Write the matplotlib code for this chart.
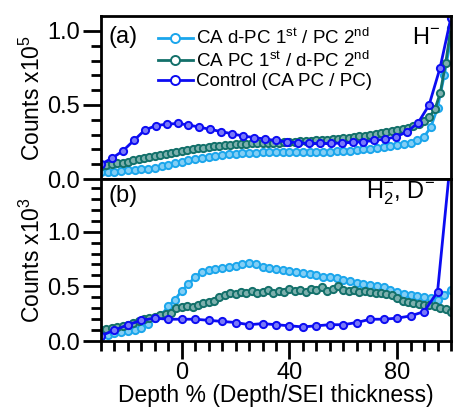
import numpy as np
import matplotlib.pyplot as plt
from matplotlib.colors import to_rgb

plt.rcParams['font.family'] = ['Liberation Sans', 'DejaVu Sans']
plt.rcParams['mathtext.default'] = 'regular'

# depth grids (% of SEI thickness)
depth_lb = np.arange(-30, 100.1, 2.5)
depth_tl = np.arange(-30, 100.1, 2.0)
depth_bl_a = np.linspace(-30, 100, 33)
depth_bl_b = np.arange(-30, 100.1, 5.0)

# panel (a): H-  (counts x1e5)
h_dpc_pc = [0.05, 0.05, 0.05, 0.055, 0.06, 0.06, 0.065, 0.07, 0.075, 0.085, 0.095, 0.105,
            0.115, 0.125, 0.135, 0.145, 0.15, 0.158, 0.163, 0.168, 0.172, 0.175, 0.178,
            0.178, 0.18, 0.18, 0.18, 0.18, 0.18, 0.18, 0.18, 0.181, 0.182, 0.183, 0.185,
            0.187, 0.19, 0.192, 0.195, 0.2, 0.205, 0.21, 0.215, 0.22, 0.228, 0.235, 0.245,
            0.26, 0.285, 0.35, 0.48, 0.7, 0.95]
h_pc_dpc = [0.09, 0.095, 0.10, 0.105, 0.11, 0.118, 0.125, 0.132, 0.14, 0.147, 0.155, 0.162,
            0.17, 0.177, 0.184, 0.19, 0.196, 0.202, 0.207, 0.212, 0.217, 0.221, 0.225, 0.228,
            0.231, 0.234, 0.236, 0.238, 0.24, 0.241, 0.242, 0.244, 0.245, 0.246, 0.248, 0.25,
            0.252, 0.254, 0.256, 0.258, 0.26, 0.262, 0.265, 0.268, 0.271, 0.274, 0.278, 0.282,
            0.287, 0.292, 0.297, 0.303, 0.309, 0.315, 0.322, 0.33, 0.338, 0.347, 0.358, 0.372,
            0.39, 0.42, 0.47, 0.58, 0.78, 1.02]
h_control = [0.10, 0.14, 0.19, 0.26, 0.33, 0.36, 0.37, 0.375, 0.365, 0.35, 0.335, 0.32,
             0.305, 0.29, 0.28, 0.27, 0.26, 0.25, 0.245, 0.24, 0.24, 0.24, 0.243, 0.247,
             0.252, 0.26, 0.27, 0.285, 0.32, 0.38, 0.5, 0.75, 1.09]

# panel (b): H2-, D-  (counts x1e3)
d_dpc_pc = [0.05, 0.06, 0.07, 0.08, 0.09, 0.10, 0.12, 0.16, 0.21, 0.24, 0.32, 0.38,
            0.46, 0.52, 0.59, 0.63, 0.65, 0.66, 0.67, 0.68, 0.69, 0.7, 0.71, 0.70, 0.68,
            0.67, 0.66, 0.645, 0.64, 0.635, 0.62, 0.61, 0.60, 0.59, 0.585, 0.575, 0.56,
            0.545, 0.53, 0.52, 0.51, 0.5, 0.49, 0.47, 0.45, 0.43, 0.42, 0.41, 0.40, 0.39,
            0.38, 0.42, 0.47]
d_pc_dpc = [0.10, 0.11, 0.12, 0.13, 0.14, 0.15, 0.17, 0.18, 0.20, 0.21, 0.22, 0.24, 0.25,
            0.26, 0.30, 0.31, 0.32, 0.31, 0.33, 0.35, 0.36, 0.37, 0.40, 0.42, 0.44, 0.43,
            0.45, 0.44, 0.46, 0.44, 0.45, 0.47, 0.44, 0.46, 0.45, 0.48, 0.46, 0.47, 0.45,
            0.48, 0.47, 0.49, 0.46, 0.48, 0.50, 0.47, 0.46, 0.47, 0.45, 0.46, 0.45, 0.44,
            0.44, 0.43, 0.42, 0.39, 0.37, 0.36, 0.35, 0.34, 0.33, 0.33, 0.32, 0.30, 0.29, 0.27]
d_control = [0.05, 0.10, 0.15, 0.19, 0.21, 0.20, 0.20, 0.20, 0.19, 0.18, 0.17, 0.15, 0.16,
             0.15, 0.14, 0.13, 0.14, 0.15, 0.15, 0.17, 0.20, 0.20, 0.21, 0.23, 0.27, 0.45, 1.7]

c_lb = '#1ba6ec'
c_tl = '#13706a'
c_bl = '#0c0cf2'
labels = ['CA d-PC 1$^{st}$ / PC 2$^{nd}$',
          'CA PC 1$^{st}$ / d-PC 2$^{nd}$',
          'Control (CA PC / PC)']


def tint(c, f=0.45):
    # lighter marker face, like the filled-looking circles of the original
    r, g, b = to_rgb(c)
    return (r + (1 - r) * f, g + (1 - g) * f, b + (1 - b) * f)


fig = plt.figure(figsize=(4.56, 4.12), dpi=100)
ax1 = fig.add_axes([0.2215, 0.5655, 0.7675, 0.3955])
ax2 = fig.add_axes([0.2215, 0.172, 0.7675, 0.3935])

mk = dict(marker='o', markersize=5.2, markeredgewidth=1.4, lw=2.0)

ax1.plot(depth_lb, h_dpc_pc, color=c_lb, mfc=tint(c_lb), label=labels[0], **mk)
ax1.plot(depth_tl, h_pc_dpc, color=c_tl, mfc=tint(c_tl), label=labels[1], **mk)
ax1.plot(depth_bl_a, h_control, color=c_bl, mfc=tint(c_bl), label=labels[2], **mk)

ax2.plot(depth_lb, d_dpc_pc, color=c_lb, mfc=tint(c_lb), **mk)
ax2.plot(depth_tl, d_pc_dpc, color=c_tl, mfc=tint(c_tl), **mk)
ax2.plot(depth_bl_b, d_control, color=c_bl, mfc=tint(c_bl), **mk)

for ax in (ax1, ax2):
    ax.set_xlim(-30, 100)
    ax.set_xticks([0, 40, 80])
    ax.set_xticks(np.arange(-30, 101, 5), minor=True)
    for s in ax.spines.values():
        s.set_linewidth(2.0)
    ax.tick_params(which='major', length=13, width=2.0, labelsize=17, direction='out', pad=2)
    ax.tick_params(which='minor', length=7.5, width=2.0, direction='out')
    ax.tick_params(top=False, right=False)

ax1.set_ylim(0, 1.1)
ax1.set_yticks([0.0, 0.5, 1.0])
ax1.set_yticks(np.arange(0, 1.05, 0.1), minor=True)
ax1.tick_params(axis='x', which='both', bottom=False, labelbottom=False)
ax1.set_ylabel('Counts x10$^5$', fontsize=16.5)

ax2.set_ylim(0, 1.48)
ax2.set_yticks([0.0, 0.5, 1.0])
ax2.set_yticks(np.arange(0, 1.45, 0.1), minor=True)
ax2.set_ylabel('Counts x10$^3$', fontsize=16.5)
ax2.set_xlabel('Depth % (Depth/SEI thickness)', fontsize=16.5, labelpad=0)

for ax in (ax1, ax2):
    ax.yaxis.set_major_formatter(plt.FormatStrFormatter('%.1f'))
    ax.yaxis.set_label_coords(-0.16, 0.5)

leg = ax1.legend(loc='upper left', bbox_to_anchor=(0.163, 0.925), frameon=False, fontsize=13.5,
                 handlelength=1.85, handletextpad=0.2, labelspacing=0.13,
                 borderaxespad=0, borderpad=0)
for h in leg.legend_handles:
    h.set_markerfacecolor('white')
    h.set_markersize(6.5)

ax1.text(0.02, 0.94, '(a)', transform=ax1.transAxes, fontsize=17, va='top')
ax1.text(0.97, 0.93, 'H$^{-}$', transform=ax1.transAxes, fontsize=17, va='top', ha='right')
ax2.text(0.02, 0.965, '(b)', transform=ax2.transAxes, fontsize=17, va='top')
ax2.text(0.955, 0.995, 'H$_2^{-}$, D$^{-}$', transform=ax2.transAxes, fontsize=17,
         va='top', ha='right')

fig.savefig('out.png', dpi=100)
